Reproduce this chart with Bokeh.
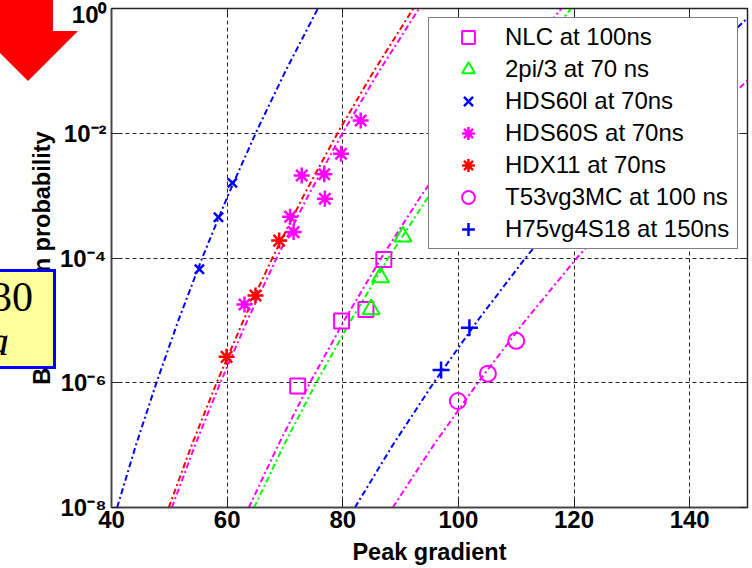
from bokeh.plotting import figure
from bokeh.layouts import column
from bokeh.models import (Range1d, FixedTicker, LinearAxis, LogAxis, Legend, LegendItem,
                          CustomJSTickFormatter, Div)
from bokeh.embed import file_html
from bokeh.resources import INLINE

# ---------------- data ----------------
nlc_x = [72.2, 79.8, 84.0, 87.1]
nlc_y = [8.9e-7, 9.8e-6, 1.5e-5, 9.5e-5]

tri_x = [84.9, 86.5, 90.4]
tri_y = [1.5e-5, 4.9e-5, 2.2e-4]

hds60i_x = [55.2, 58.5, 60.9]
hds60i_y = [6.6e-5, 4.5e-4, 1.6e-3]

hds60s_x = [63.0, 70.9, 71.5, 72.9, 76.8, 76.9, 79.7, 83.1]
hds60s_y = [1.8e-5, 4.6e-4, 2.6e-4, 2.1e-3, 2.2e-3, 8.9e-4, 4.7e-3, 1.6e-2]

hdx11_x = [59.9, 64.9, 69.0]
hdx11_y = [2.6e-6, 2.5e-5, 1.9e-4]

t53_x = [99.9, 105.1, 110.0]
t53_y = [5.1e-7, 1.4e-6, 4.7e-6]

h75_x = [97.0, 101.9]
h75_y = [1.6e-6, 7.6e-6]

# fitted curves (dash-dot), gradient at each probability level
fit_p = [1e-8, 1e-7, 1e-6, 1e-5, 1e-4, 1e-3, 1e-2, 1e-1, 1e0]
fit_hds60i = [40.97, 44.23, 47.77, 51.57, 55.68, 60.13, 64.93, 70.11, 75.70]
fit_hdx11 = [49.90, 53.87, 58.18, 62.82, 67.82, 73.23, 79.08, 85.39, 92.20]
fit_hds60s = [50.44, 54.46, 58.81, 63.50, 68.56, 74.03, 79.94, 86.31, 93.20]
fit_nlc = [63.75, 68.83, 74.33, 80.26, 86.65, 93.57, 101.04, 109.10, 117.80]
fit_tri = [64.67, 69.82, 75.40, 81.41, 87.90, 94.92, 102.50, 110.67, 119.50]
fit_h75 = [82.10, 88.64, 95.72, 103.35, 111.59, 120.49, 130.11, 140.49, 151.70]
fit_t53 = [88.65, 95.71, 103.36, 111.60, 120.49, 130.11, 140.49, 151.70, 163.80]

x_ticks = [40, 60, 80, 100, 120, 140]
y_ticks = [1e-8, 1e-6, 1e-4, 1e-2, 1e0]

legend_labels = ["NLC at 100ns", "2pi/3 at 70 ns", "HDS60l at 70ns", "HDS60S at 70ns",
                 "HDX11 at 70ns", "T53vg3MC at 100 ns", "H75vg4S18 at 150ns"]

MAG, GRN, BLU, RED = "#FF00FF", "#00FF00", "#0000FF", "#FF0000"
FONT = "Liberation Sans"

fig = figure(width=752, height=567, output_backend="svg", toolbar_location=None,
             y_axis_type="log", x_range=Range1d(40, 150), y_range=Range1d(1e-8, 1),
             min_border_left=111, min_border_right=5, min_border_top=8, min_border_bottom=59,
             background_fill_color="white", border_fill_color="white")
fig.outline_line_color = "#222222"
fig.outline_line_width = 1.5

# grid
fig.xgrid.ticker = FixedTicker(ticks=x_ticks)
fig.ygrid.ticker = FixedTicker(ticks=y_ticks)
for g in (fig.xgrid, fig.ygrid):
    g.grid_line_color = "#222222"
    g.grid_line_dash = "4 3"
    g.grid_line_width = 1
fig.ygrid.minor_grid_line_color = None

sup_code = """
const sup = {"-":"\u207b","0":"\u2070","1":"\u00b9","2":"\u00b2","3":"\u00b3","4":"\u2074",
             "5":"\u2075","6":"\u2076","7":"\u2077","8":"\u2078","9":"\u2079"};
const e = Math.round(Math.log10(tick));
return "10" + String(e).split("").map(c => sup[c]).join("");
"""

xa = fig.xaxis[0]
xa.ticker = FixedTicker(ticks=x_ticks)
xa.axis_label = "Peak gradient"
ya = fig.yaxis[0]
ya.ticker = FixedTicker(ticks=y_ticks)
ya.formatter = CustomJSTickFormatter(code=sup_code)
ya.axis_label = "Breakdown probability"

for ax in (xa, ya):
    ax.major_tick_in = 8
    ax.major_tick_out = 0
    ax.minor_tick_line_color = None
    ax.axis_line_color = "#444444"
    ax.axis_line_width = 1.5
    ax.major_tick_line_color = "#222222"
    ax.major_label_text_font = FONT
    ax.major_label_text_font_style = "bold"
    ax.major_label_text_font_size = "24px"
    ax.major_label_text_color = "black"
    ax.axis_label_text_font = FONT
    ax.axis_label_text_font_style = "bold"
    ax.axis_label_text_font_size = "23.5px"
    ax.axis_label_text_color = "black"
xa.major_label_standoff = 3
xa.axis_label_standoff = 8
ya.major_label_standoff = 5
ya.axis_label_standoff = 2

# box axes (ticks only) on top and right
top_ax = LinearAxis(ticker=FixedTicker(ticks=x_ticks), formatter=CustomJSTickFormatter(code="return ''"))
right_ax = LogAxis(ticker=FixedTicker(ticks=y_ticks), formatter=CustomJSTickFormatter(code="return ''"))
for ax in (top_ax, right_ax):
    ax.major_tick_in = 8
    ax.major_tick_out = 0
    ax.minor_tick_line_color = None
    ax.axis_line_color = "#222222"
    ax.major_tick_line_color = "#222222"
    ax.major_label_text_font_size = "0px"
    ax.major_label_standoff = 0
fig.add_layout(top_ax, "above")
fig.add_layout(right_ax, "right")

# fit lines
DASH = "6 3 2 3"
for xs, c in [(fit_hds60i, BLU), (fit_hdx11, RED), (fit_hds60s, MAG), (fit_nlc, MAG),
              (fit_tri, GRN), (fit_h75, BLU), (fit_t53, MAG)]:
    fig.line(xs, fit_p, line_color=c, line_width=2, line_dash=DASH)

# markers
r_nlc = fig.scatter(nlc_x, nlc_y, marker="square", size=15, fill_color=None, line_color=MAG, line_width=2)
r_tri = fig.scatter(tri_x, tri_y, marker="triangle", size=17, fill_color=None, line_color=GRN, line_width=2)
r_60i = fig.scatter(hds60i_x, hds60i_y, marker="x", size=13, line_color=BLU, line_width=2.5)
r_60s = fig.scatter(hds60s_x, hds60s_y, marker="asterisk", size=16, line_color=MAG, line_width=2.5)
r_x11 = fig.scatter(hdx11_x, hdx11_y, marker="asterisk", size=16, line_color=RED, line_width=2.5)
r_t53 = fig.scatter(t53_x, t53_y, marker="circle", size=16, fill_color=None, line_color=MAG, line_width=2)
r_h75 = fig.scatter(h75_x, h75_y, marker="cross", size=17, line_color=BLU, line_width=2.5)

rends = [r_nlc, r_tri, r_60i, r_60s, r_x11, r_t53, r_h75]
legend = Legend(items=[LegendItem(label=l, renderers=[r]) for l, r in zip(legend_labels, rends)],
                location="top_right", margin=9, padding=3, spacing=0,
                glyph_width=72, glyph_height=32, label_standoff=1, label_width=229,
                label_text_font=FONT, label_text_font_size="24px", label_text_color="black",
                border_line_color="black", border_line_width=1.2,
                background_fill_color="white", background_fill_alpha=1)
fig.add_layout(legend, "center")

# slide decorations lying over the chart: red arrow and yellow note box
deco_html = (
    '<div style="position:fixed;left:0px;top:0px;width:80px;height:82px;background:#FF0000;'
    'clip-path:polygon(0px 0px,53px 0px,53px 31px,78px 31px,28px 81px,0px 53px);z-index:10"></div>'
    '<div style="position:fixed;left:-10px;top:269px;width:66px;height:100px;background:#FFFF99;'
    'border:3px solid #0000FF;z-index:10"></div>'
    '<div style="position:fixed;left:-60px;top:276px;width:93px;text-align:right;'
    'font-family:\'Liberation Serif\',serif;font-size:42px;line-height:42px;color:black;z-index:11">30</div>'
    '<div style="position:fixed;left:-60px;top:320px;width:69px;text-align:right;'
    'font-family:\'Liberation Serif\',serif;font-style:italic;font-size:42px;line-height:42px;color:black;z-index:11">a</div>'
)
deco = Div(text=deco_html, width=1, height=1)

p = column(fig, deco, spacing=0)
open("out.html", "w").write(file_html(p, INLINE))
